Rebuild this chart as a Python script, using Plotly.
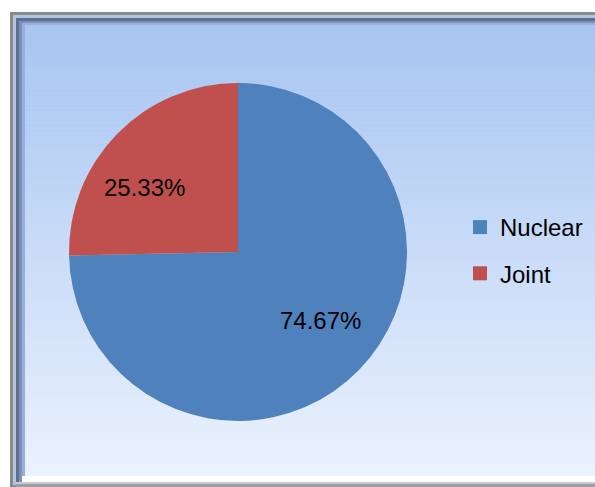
import math
import plotly.graph_objects as go

labels = ["Nuclear", "Joint"]
values = [74.67, 25.33]
colors = ["#4f81bd", "#c0504d"]

W, H = 595, 487
FONT = "Liberation Sans, Arial, sans-serif"

# pie placement (pixels) and label placement style
PIE_X0, PIE_X1, PIE_Y0, PIE_Y1 = 69, 407, 83, 421
LABEL_R = 0.66
LABEL_NUDGE = [(3, -10), (-14, 14)]

def px(x):
    return x / W

def py(y):
    return 1 - y / H

def rect(x0, y0, x1, y1, color):
    return dict(type="rect", xref="paper", yref="paper", layer="below",
                x0=px(x0), x1=px(x1), y0=py(y1), y1=py(y0),
                fillcolor=color, line=dict(width=0))

shapes = []
# outer frame
shapes.append(rect(10, 12, 600, 487, "#8a8a8a"))
shapes.append(rect(13, 15, 600, 485, "#b4c4de"))
shapes.append(rect(16, 18, 600, 482, "#5d7090"))
shapes.append(rect(19, 21, 600, 482, "#7b90b4"))
shapes.append(rect(22, 23, 600, 482, "#98ade0"))
# bottom strip
shapes.append(rect(16, 482, 600, 487, "#9a9ea6"))
shapes.append(rect(16, 482, 600, 484, "#c8cbd0"))
shapes.append(rect(22, 476, 600, 482, "#ffffff"))
# gradient background
top = (168, 197, 242)
bot = (234, 242, 253)
y_start, y_end = 25, 476
n = 90
for i in range(n):
    t = i / (n - 1)
    c = tuple(round(top[k] + (bot[k] - top[k]) * t) for k in range(3))
    ya = y_start + (y_end - y_start) * i / n
    yb = y_start + (y_end - y_start) * (i + 1) / n + 0.6
    shapes.append(rect(25, ya, 600, min(yb, y_end), "rgb(%d,%d,%d)" % c))

fig = go.Figure()
fig.add_trace(go.Pie(
    labels=labels, values=values, sort=False, direction="clockwise", rotation=0,
    marker=dict(colors=colors, line=dict(width=0)),
    textinfo="none",
    showlegend=False, hoverinfo="label+percent",
    domain=dict(x=[px(PIE_X0), px(PIE_X1)], y=[py(PIE_Y1), py(PIE_Y0)]),
))

# percentage labels at slice mid-angles
total = sum(values)
cx, cy = (PIE_X0 + PIE_X1) / 2, (PIE_Y0 + PIE_Y1) / 2
R = (PIE_X1 - PIE_X0) / 2
annotations = []
cum = 0
for v, (dx, dy) in zip(values, LABEL_NUDGE):
    mid = (cum + v / 2) / total * 2 * math.pi
    cum += v
    lx = cx + LABEL_R * R * math.sin(mid) + dx
    ly = cy - LABEL_R * R * math.cos(mid) + dy
    annotations.append(dict(
        x=px(lx), y=py(ly), xref="paper", yref="paper", showarrow=False,
        text="%.2f%%" % (v / total * 100),
        font=dict(family=FONT, size=24, color="#000000"),
        xanchor="center", yanchor="middle",
    ))

for lab, col in zip(labels, colors):
    fig.add_trace(go.Scatter(
        x=[None], y=[None], mode="markers", name=lab,
        marker=dict(symbol="square", size=14, color=col),
        legendgroup=lab, showlegend=True,
    ))

fig.update_layout(
    width=W, height=H,
    margin=dict(l=0, r=0, t=0, b=0, autoexpand=False),
    paper_bgcolor="#ffffff", plot_bgcolor="rgba(0,0,0,0)",
    shapes=shapes, annotations=annotations,
    xaxis=dict(visible=False), yaxis=dict(visible=False),
    legend=dict(x=px(460), y=py(205), xanchor="left", yanchor="top",
                bgcolor="rgba(0,0,0,0)", tracegroupgap=12,
                font=dict(family=FONT, size=24, color="#000000"),
                itemwidth=30),
)
fig.write_html("out.html")
